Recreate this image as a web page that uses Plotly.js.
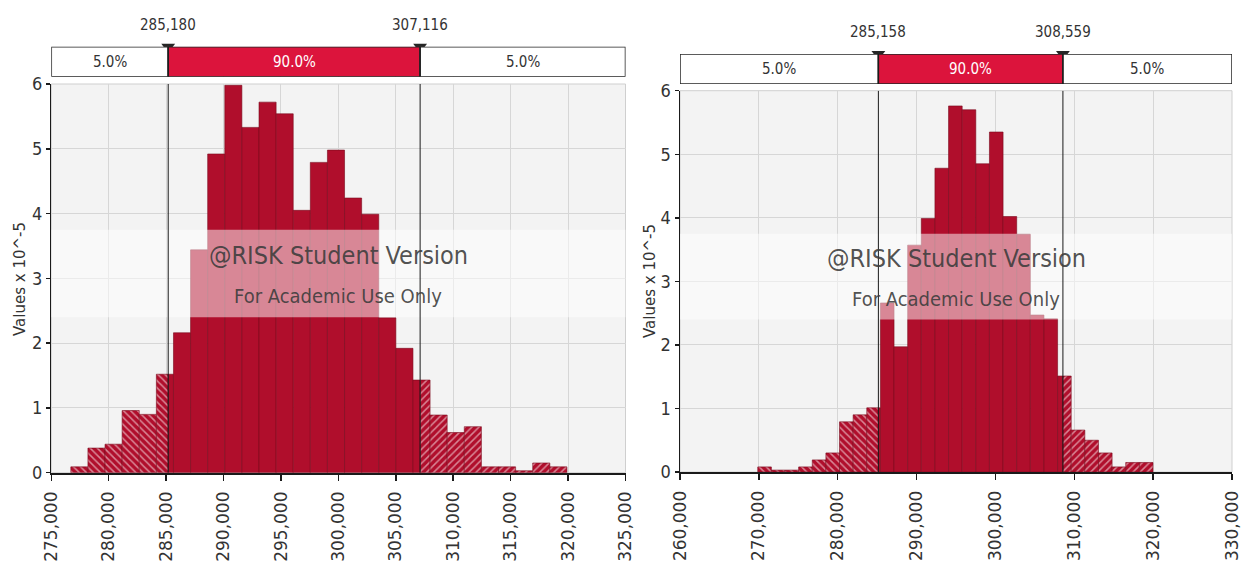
<!DOCTYPE html>
<html>
<head>
<meta charset="utf-8">
<script src="https://cdn.plot.ly/plotly-3.0.1.min.js"></script>
<style>
  html, body { margin: 0; padding: 0; background: #ffffff; }
  #chart { width: 1244px; height: 572px; }
</style>
</head>
<body>
<div id="chart"></div>
<script>
// ---------------- DATA ----------------
// Left histogram (density, Values x 10^-5)
const leftBinMin = 276700;
const leftBinMax = 319900;
const leftHeights = [0.09, 0.38, 0.44, 0.96, 0.90, 1.52, 2.16, 3.44, 4.92, 5.98,
                     5.33, 5.72, 5.54, 4.05, 4.79, 4.98, 4.24, 3.99, 2.39, 1.92,
                     1.43, 0.89, 0.62, 0.71, 0.09, 0.09, 0.03, 0.15, 0.09];
const leftP5 = 285180;
const leftP95 = 307116;
const leftXRange = [275000, 325000];
const leftXStep = 5000;

// Right histogram
const rightBinMin = 269860;
const rightBinMax = 319980;
const rightHeights = [0.08, 0.03, 0.03, 0.08, 0.19, 0.30, 0.79, 0.90, 1.01, 2.66,
                      1.97, 3.57, 3.99, 4.78, 5.76, 5.70, 4.85, 5.35, 4.02, 3.74,
                      2.47, 2.41, 1.51, 0.66, 0.50, 0.30, 0.08, 0.15, 0.15];
const rightP5 = 285158;
const rightP95 = 308559;
const rightXRange = [260000, 330000];
const rightXStep = 10000;

const yRange = [0, 6];
const tailLabels = ['5.0%', '90.0%', '5.0%'];
const yTitle = 'Values x 10^-5';
const watermark1 = '@RISK Student Version';
const watermark2 = 'For Academic Use Only';
const watermarkBand = [2.4, 3.75];

// ---------------- STYLE ----------------
const W = 1244, H = 572;
const narrow = '"DejaVu Sans Condensed", "Liberation Sans", sans-serif';
const wide = '"DejaVu Sans", Verdana, sans-serif';
const RED = '#b00e2c';
const CRIMSON = '#dc143c';
const fx = px => px / W;
const fy = py => 1 - py / H;

function split(min, max, heights, p5, p95) {
  const n = heights.length, w = (max - min) / n;
  const parts = { left: {x: [], y: [], w: []}, mid: {x: [], y: [], w: []}, right: {x: [], y: [], w: []} };
  const push = (p, a, b, h) => { p.x.push((a + b) / 2); p.w.push(b - a); p.y.push(h); };
  for (let i = 0; i < n; i++) {
    const lo = min + i * w, hi = lo + w, h = heights[i];
    if (lo < p5) push(parts.left, lo, Math.min(hi, p5), h);
    const a = Math.max(lo, p5), b = Math.min(hi, p95);
    if (b > a) push(parts.mid, a, b, h);
    if (hi > p95) push(parts.right, Math.max(lo, p95), hi, h);
  }
  return parts;
}

function barTraces(parts, xa, ya) {
  const base = { type: 'bar', xaxis: xa, yaxis: ya, hoverinfo: 'skip', showlegend: false };
  const line = { color: '#780a1d', width: 0.6 };
  return [
    Object.assign({}, base, { x: parts.left.x, y: parts.left.y, width: parts.left.w,
      marker: { color: RED, line: line, pattern: { shape: '\\', fillmode: 'overlay', bgcolor: RED, fgcolor: '#ffffff', size: 5, solidity: 0.3 } } }),
    Object.assign({}, base, { x: parts.mid.x, y: parts.mid.y, width: parts.mid.w,
      marker: { color: RED, line: line } }),
    Object.assign({}, base, { x: parts.right.x, y: parts.right.y, width: parts.right.w,
      marker: { color: RED, line: line, pattern: { shape: '/', fillmode: 'overlay', bgcolor: RED, fgcolor: '#ffffff', size: 5, solidity: 0.3 } } })
  ];
}

const leftParts = split(leftBinMin, leftBinMax, leftHeights, leftP5, leftP95);
const rightParts = split(rightBinMin, rightBinMax, rightHeights, rightP5, rightP95);

const traces = [].concat(
  barTraces(leftParts, 'x', 'y'),
  barTraces(rightParts, 'x2', 'y2'),
  [
    { type: 'scatter', mode: 'markers', x: [leftP5, leftP95], y: [1, 1], xaxis: 'x', yaxis: 'y3',
      marker: { symbol: 'triangle-down', size: 12, color: '#262626' }, cliponaxis: false, hoverinfo: 'skip', showlegend: false },
    { type: 'scatter', mode: 'markers', x: [rightP5, rightP95], y: [1, 1], xaxis: 'x2', yaxis: 'y4',
      marker: { symbol: 'triangle-down', size: 12, color: '#262626' }, cliponaxis: false, hoverinfo: 'skip', showlegend: false }
  ]
);

function xAxis(domain, range, step, anchor) {
  return {
    domain: domain, range: range, tick0: range[0], dtick: step, tickformat: ',d',
    tickangle: -90, ticks: 'outside', ticklen: 6, tickwidth: 1.5, tickcolor: '#1a1a1a',
    ticklabelstandoff: 4, ticklabeloverflow: 'allow',
    showline: true, linecolor: '#1a1a1a', linewidth: 2, showgrid: true, gridcolor: '#d6d6d6', gridwidth: 1,
    zeroline: false, anchor: anchor, fixedrange: true,
    tickfont: { family: wide, size: 17, color: '#333333' }
  };
}
function yAxis(domain, anchor) {
  return {
    domain: domain, range: yRange, dtick: 1, ticks: 'outside', ticklen: 4, tickwidth: 1.5, tickcolor: '#1a1a1a',
    showline: true, linecolor: '#1a1a1a', linewidth: 1.5, showgrid: true, gridcolor: '#d6d6d6', gridwidth: 1,
    zeroline: false, anchor: anchor, fixedrange: true,
    tickfont: { family: narrow, size: 18, color: '#333333' }
  };
}
function hdrAxis(domain, anchor) {
  return { domain: domain, range: [0, 1], visible: false, anchor: anchor, fixedrange: true };
}

const shapes = [];
const annotations = [];

function decorate(xa, ya, ha, xr, p5, p95, yLabelPx) {
  const xref = xa, yref = ya, href = ha;
  const secs = [[xr[0], p5, '#ffffff'], [p5, p95, CRIMSON], [p95, xr[1], '#ffffff']];
  secs.forEach((s, i) => {
    shapes.push({ type: 'rect', xref: xref, yref: href, x0: s[0], x1: s[1], y0: 0, y1: 1,
      fillcolor: s[2], line: { color: '#262626', width: 1.5 }, layer: 'above' });
    annotations.push({ xref: xref, yref: href, x: (s[0] + s[1]) / 2, y: 0.5, xanchor: 'center', text: tailLabels[i], showarrow: false,
      font: { family: narrow, size: 15, color: i === 1 ? '#ffffff' : '#333333' } });
  });
  shapes.push({ type: 'rect', xref: xref + ' domain', yref: yref + ' domain', x0: 0, x1: 1, y0: 0, y1: 1,
    line: { color: '#cfcfcf', width: 1 }, layer: 'below' });
  shapes.push({ type: 'rect', xref: xref + ' domain', yref: yref, x0: 0, x1: 1, y0: watermarkBand[0], y1: watermarkBand[1],
    fillcolor: 'rgba(255,255,255,0.5)', line: { width: 0 }, layer: 'above' });
  [p5, p95].forEach(p => {
    shapes.push({ type: 'line', xref: xref, yref: yref, x0: p, x1: p, y0: yRange[0], y1: yRange[1], line: { color: '#1a1a1a', width: 1 }, layer: 'above' });
    shapes.push({ type: 'line', xref: xref, yref: href, x0: p, x1: p, y0: 0, y1: 1, line: { color: '#1a1a1a', width: 1 }, layer: 'above' });
    annotations.push({ xref: xref, yref: 'paper', x: p, y: fy(yLabelPx), xanchor: 'center', yanchor: 'middle', text: p.toLocaleString('en-US'),
      showarrow: false, font: { family: narrow, size: 15, color: '#333333' } });
  });
  annotations.push({ xref: xref + ' domain', yref: yref, x: 0.5, y: 3.36, xanchor: 'center', text: watermark1, showarrow: false,
    font: { family: narrow, size: 25, color: 'rgba(60,60,60,0.9)' } });
  annotations.push({ xref: xref + ' domain', yref: yref, x: 0.5, y: 2.73, xanchor: 'center', text: watermark2, showarrow: false,
    font: { family: narrow, size: 20, color: 'rgba(60,60,60,0.9)' } });
}

decorate('x', 'y', 'y3', leftXRange, leftP5, leftP95, 25);
decorate('x2', 'y2', 'y4', rightXRange, rightP5, rightP95, 32);

annotations.push({ xref: 'paper', yref: 'paper', x: fx(20), y: fy(279), xanchor: 'center', yanchor: 'middle', text: yTitle, textangle: -90, showarrow: false,
  font: { family: wide, size: 15, color: '#333333' } });
annotations.push({ xref: 'paper', yref: 'paper', x: fx(650), y: fy(281), xanchor: 'center', yanchor: 'middle', text: yTitle, textangle: -90, showarrow: false,
  font: { family: wide, size: 15, color: '#333333' } });

const layout = {
  width: W, height: H,
  margin: { l: 0, r: 0, t: 0, b: 0, pad: 0 },
  paper_bgcolor: '#ffffff', plot_bgcolor: '#f3f3f3',
  barmode: 'overlay', bargap: 0,
  showlegend: false,
  xaxis: xAxis([fx(51.3), fx(625.5)], leftXRange, leftXStep, 'y'),
  yaxis: yAxis([fy(472.7), fy(84)], 'x'),
  xaxis2: xAxis([fx(680), fx(1232)], rightXRange, rightXStep, 'y2'),
  yaxis2: yAxis([fy(472), fy(90.7)], 'x2'),
  yaxis3: hdrAxis([fy(76.7), fy(46.7)], 'x'),
  yaxis4: hdrAxis([fy(84), fy(54)], 'x2'),
  shapes: shapes,
  annotations: annotations
};

Plotly.newPlot('chart', traces, layout, { displayModeBar: false, staticPlot: true });
</script>
</body>
</html>
